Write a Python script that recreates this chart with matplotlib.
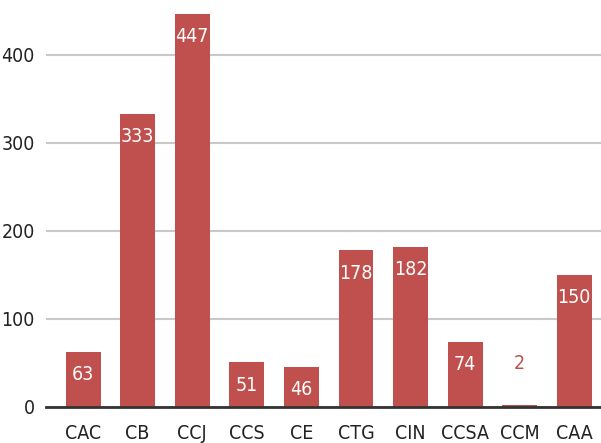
import matplotlib
matplotlib.use("Agg")
import matplotlib.pyplot as plt

categories = ["CAC", "CB", "CCJ", "CCS", "CE", "CTG", "CIN", "CCSA", "CCM", "CAA"]
values = [63, 333, 447, 51, 46, 178, 182, 74, 2, 150]
yticks = [0, 100, 200, 300, 400]

plt.rcParams['font.family'] = ['DejaVu Sans']
plt.rcParams['font.stretch'] = 'condensed'

bar_color = "#C0504D"
fig = plt.figure(figsize=(6.01, 4.43), dpi=100)
ax = fig.add_axes([46/601, 36/443, 555/601, 407/443])

x = list(range(len(categories)))
bars = ax.bar(x, values, width=0.64, color=bar_color, zorder=3)

ax.set_xlim(-0.68, 9.49)
ax.set_ylim(0, 462.5)
ax.set_yticks(yticks)
ax.set_xticks(x)
ax.set_xticklabels(categories)
ax.tick_params(axis='both', length=0, labelsize=14, colors="#222222")
ax.tick_params(axis='y', pad=8)
ax.tick_params(axis='x', pad=12)
ax.yaxis.grid(True, color="#C8C8C8", linewidth=1.5, zorder=0)
for s in ["top", "right", "left"]:
    ax.spines[s].set_visible(False)
ax.spines["bottom"].set_color("#333333")
ax.spines["bottom"].set_linewidth(2)
ax.spines["bottom"].set_zorder(4)

for xi, v in zip(x, values):
    if v > 30:
        ax.annotate(str(v), (xi, v), xytext=(0, -16.5), textcoords="offset points",
                    ha="center", va="center", color="white", fontsize=14, zorder=5)
    else:
        ax.annotate(str(v), (xi, v), xytext=(0, 30), textcoords="offset points",
                    ha="center", va="center", color=bar_color, fontsize=14, zorder=5)

fig.savefig("out.png", dpi=100)
